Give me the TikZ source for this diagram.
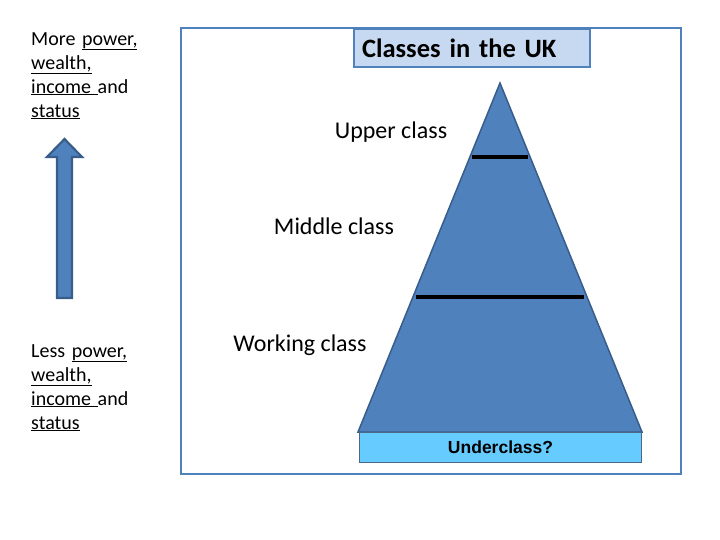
\documentclass[tikz,border=0pt]{standalone}
\usepackage{fontspec}
\setmainfont{Carlito}
\newfontfamily\arialfont{Liberation Sans}
\definecolor{frameblue}{RGB}{79,129,189}
\definecolor{darkblue}{RGB}{56,93,138}
\definecolor{titlefill}{RGB}{198,217,241}
\definecolor{underfill}{RGB}{102,204,255}
\tikzset{
  sidetext/.style={anchor=north west, inner sep=0pt, align=left, text width=130pt, font=\fontsize{20}{24}\selectfont},
  classlabel/.style={inner sep=0pt, font=\fontsize{24}{28}\selectfont},
  divider/.style={line width=3.2pt, black},
}
\begin{document}
\begin{tikzpicture}[x=1pt,y=-1pt]
\useasboundingbox (0,0) rectangle (720,540);
% outer frame
\draw[frameblue, line width=2.8pt] (181,28) rectangle (681,474);
% title
\node[draw=frameblue, line width=2pt, fill=titlefill, text width=220pt, align=left, inner xsep=8pt, inner ysep=0pt,
      minimum height=38pt, font=\fontsize{26.5}{30}\bfseries\selectfont] (title) at (472,48.5) {Classes in the UK};
% pyramid
\coordinate (apex) at (500,83);
\coordinate (bl) at (358,432);
\coordinate (br) at (642,432);
\draw[darkblue, line width=1.5pt, fill=frameblue] (apex) -- (br) -- (bl) -- cycle;
% dividers
\coordinate (u1) at (472,157); \coordinate (u2) at (528,157);
\coordinate (m1) at (416,297); \coordinate (m2) at (584,297);
\draw[divider] (u1) -- (u2);
\draw[divider] (m1) -- (m2);
% underclass bar
\node[draw=darkblue!70!gray, line width=1pt, fill=underfill, minimum width=282pt, minimum height=30pt, inner sep=0pt,
      font=\arialfont\fontsize{17.5}{20}\bfseries\selectfont] (under) at (500.5,447) {Underclass?};
% class labels
\node[classlabel] (upper) at (391,132) {Upper class};
\node[classlabel] (middle) at (334,226) {Middle class};
\node[classlabel] (working) at (300,345) {Working class};
% side texts
\node[sidetext] (more) at (31,32) {More \underline{power,}\\ \underline{wealth,}\\ \underline{income }and\\ \underline{status}};
\node[sidetext] (less) at (31,344) {Less \underline{power,}\\ \underline{wealth,}\\ \underline{income }and\\ \underline{status}};
% arrow
\draw[darkblue, line width=2.2pt, fill=frameblue, line join=miter]
  (57,298) -- (57,157) -- (47,157) -- (64.5,139) -- (82,157) -- (72,157) -- (72,298) -- cycle;
\end{tikzpicture}
\end{document}
